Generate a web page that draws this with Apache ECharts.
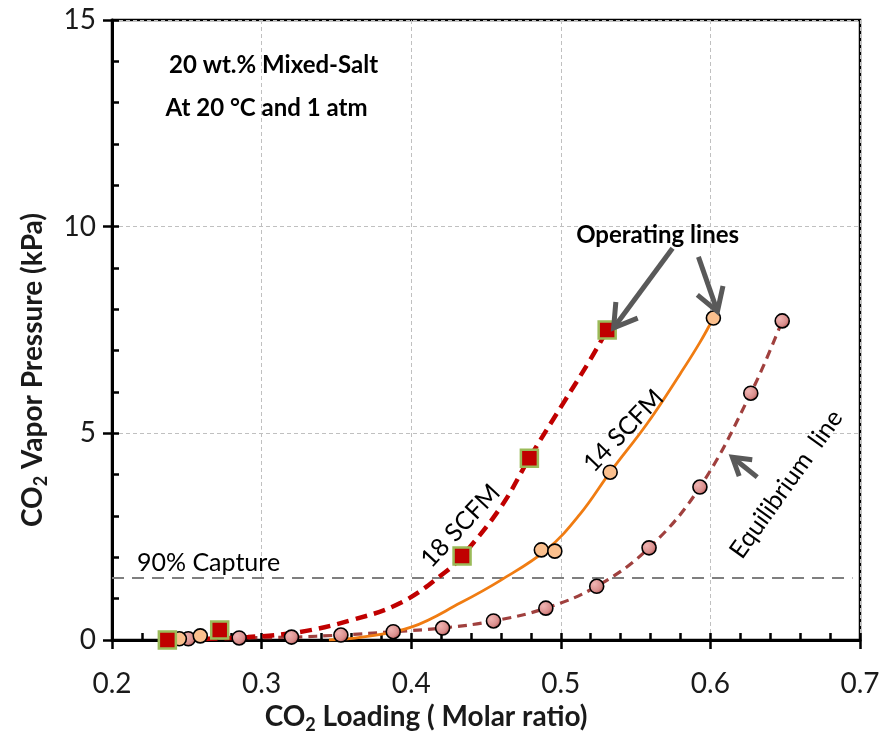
<!DOCTYPE html>
<html><head><meta charset="utf-8">
<script src="https://cdn.jsdelivr.net/npm/echarts@6/dist/echarts.min.js"></script>
<style>html,body{margin:0;padding:0;background:#fff}#c{width:895px;height:740px}</style>
</head><body><div id="c"></div>
<script>
// ---- data ----
const xTickValues = [0.2, 0.3, 0.4, 0.5, 0.6, 0.7];
const yTickValues = [0, 5, 10, 15];
// 18 SCFM measured points (red squares)
const sq18X = [0.237, 0.272, 0.434, 0.479, 0.531];
const sq18Y = [0.00, 0.24, 2.03, 4.40, 7.50];
// 14 SCFM measured points (orange circles)
const pt14X = [0.245, 0.259, 0.487, 0.496, 0.533, 0.602];
const pt14Y = [0.03, 0.10, 2.18, 2.15, 4.06, 7.79];
// equilibrium points
const eqX = [0.251, 0.285, 0.320, 0.353, 0.388, 0.421, 0.455, 0.490, 0.524, 0.559, 0.593, 0.627, 0.648];
const eqY = [0.03, 0.05, 0.07, 0.12, 0.20, 0.29, 0.46, 0.77, 1.30, 2.23, 3.70, 5.97, 7.72];
// operating-line trend curves
const fit18X = [0.237, 0.265, 0.291, 0.325, 0.360, 0.393, 0.422, 0.434, 0.460, 0.479, 0.502, 0.520, 0.531];
const fit18Y = [0.00, 0.03, 0.07, 0.19, 0.48, 0.90, 1.62, 2.03, 3.22, 4.40, 5.75, 6.80, 7.50];
const fit14X = [0.345, 0.367, 0.400, 0.433, 0.460, 0.491, 0.513, 0.533, 0.558, 0.580, 0.593, 0.602];
const fit14Y = [0.00, 0.07, 0.31, 0.90, 1.45, 2.20, 3.05, 4.06, 5.25, 6.45, 7.20, 7.79];
// 90% capture level
const captureX = [0.2, 0.695];
const captureY = [1.5, 1.5];

const zip = (a, b) => a.map((v, i) => [v, b[i]]);
const FONT = 'Lato, "Open Sans", sans-serif';
const xMin = xTickValues[0], xMax = xTickValues[xTickValues.length - 1];
const yMin = yTickValues[0], yMax = yTickValues[yTickValues.length - 1];

const titleRich = {s: {fontFamily: FONT, fontSize: 18, fontWeight: 'bold', color: '#1a1a1a', verticalAlign: 'bottom', padding: [16, 0, 0, 0]}};

const chart = echarts.init(document.getElementById('c'), null, {renderer: 'canvas'});
const option = {
  animation: false,
  grid: {left: 112, right: 35, top: 20, bottom: 100, show: true, borderColor: '#000', borderWidth: 2.5, backgroundColor: 'transparent'},
  xAxis: [{
    type: 'value', min: xMin, max: xMax, interval: 0.1,
    axisLine: {lineStyle: {color: '#000', width: 3}},
    axisTick: {show: true, inside: true, length: 7, lineStyle: {color: '#000', width: 2.5}},
    minorTick: {show: true, splitNumber: 5, length: 7, lineStyle: {color: '#000', width: 2.5}},
    splitLine: {show: true, lineStyle: {color: '#c0c0c0', width: 1, type: [4, 3]}},
    axisLabel: {fontFamily: FONT, fontSize: 28, color: '#1a1a1a', margin: 30, formatter: v => v.toFixed(1)},
    name: 'CO{s|2} Loading ( Molar ratio)', nameLocation: 'middle', nameGap: 58,
    nameTextStyle: {fontFamily: FONT, fontSize: 28, fontWeight: 'bold', color: '#1a1a1a', padding: [0, 120, 0, 0], rich: titleRich}
  }, {
    type: 'value', min: xMin, max: xMax, interval: 0.1, position: 'bottom',
    axisLine: {show: false}, axisLabel: {show: false}, splitLine: {show: false},
    axisTick: {show: true, inside: false, length: 9, lineStyle: {color: '#000', width: 2.5}}
  }],
  yAxis: [{
    type: 'value', min: yMin, max: yMax, interval: 5,
    axisLine: {show: true, lineStyle: {color: '#000', width: 3}},
    axisTick: {show: true, inside: true, length: 7, lineStyle: {color: '#000', width: 2.5}},
    minorTick: {show: true, splitNumber: 5, length: 7, lineStyle: {color: '#000', width: 2.5}},
    splitLine: {show: true, lineStyle: {color: '#c0c0c0', width: 1, type: [4, 3]}},
    axisLabel: {fontFamily: FONT, fontSize: 28, color: '#1a1a1a', margin: 16},
    name: 'CO{s|2} Vapor Pressure (kPa)', nameLocation: 'middle', nameGap: 62,
    nameTextStyle: {fontFamily: FONT, fontSize: 28, fontWeight: 'bold', color: '#1a1a1a', padding: [0, 80, 0, 0], rich: titleRich}
  }, {
    type: 'value', min: yMin, max: yMax, interval: 5, position: 'left', offset: 0,
    axisLine: {show: false}, axisLabel: {show: false}, splitLine: {show: false},
    axisTick: {show: true, inside: false, length: 9, lineStyle: {color: '#000', width: 2.5}}
  }],
  series: [
    {name: 'capture', type: 'line', data: zip(captureX, captureY), showSymbol: false, silent: true, z: 1,
      lineStyle: {color: '#7f7f7f', width: 2, type: [12, 8]}},
    {name: 'eqLine', type: 'line', data: zip(eqX, eqY), showSymbol: false, smooth: 0.4, z: 2,
      lineStyle: {color: '#a0403e', width: 3.2, type: [9, 6]}},
    {name: 'fit14', type: 'line', data: zip(fit14X, fit14Y), showSymbol: false, smooth: 0.4, z: 2,
      lineStyle: {color: '#f07c12', width: 2.8}},
    {name: 'fit18', type: 'line', data: zip(fit18X, fit18Y), showSymbol: false, smooth: 0.4, z: 2,
      lineStyle: {color: '#c00000', width: 4.5, type: [12, 7]}},
    {name: 'Equilibrium', type: 'scatter', data: zip(eqX, eqY), symbol: 'circle', symbolSize: 14, z: 3,
      itemStyle: {opacity: 1, borderColor: '#000', borderWidth: 1.6,
        color: {type: 'radial', x: 0.35, y: 0.35, r: 0.75, colorStops: [{offset: 0, color: '#f0b5b3'}, {offset: 0.6, color: '#da8f8d'}, {offset: 1, color: '#a8423f'}]}}},
    {name: '14 SCFM', type: 'scatter', data: zip(pt14X, pt14Y), symbol: 'circle', symbolSize: 14, z: 3,
      itemStyle: {opacity: 1, color: '#fbc08e', borderColor: '#000', borderWidth: 1.6}},
    {name: '18 SCFM', type: 'scatter', data: zip(sq18X, sq18Y), symbol: 'rect', symbolSize: 17, z: 4,
      itemStyle: {opacity: 1, color: '#c00000', borderColor: '#9bbb59', borderWidth: 2.5}}
  ]
};
chart.setOption(option);

// ---- annotations (placed in data coordinates) ----
const px = p => chart.convertToPixel({gridIndex: 0}, p);
function arrow(tail, tip, headLen) {
  const a = px(tail), b = px(tip);
  const ang = Math.atan2(a[1] - b[1], a[0] - b[0]);
  const s = 0.55;
  const h1 = [b[0] + headLen * Math.cos(ang + s), b[1] + headLen * Math.sin(ang + s)];
  const h2 = [b[0] + headLen * Math.cos(ang - s), b[1] + headLen * Math.sin(ang - s)];
  const style = {stroke: '#595959', lineWidth: 5, lineCap: 'butt', lineJoin: 'miter', fill: null};
  return [
    {type: 'polyline', shape: {points: [a, b]}, style: style, z: 100},
    {type: 'polyline', shape: {points: [h1, b, h2]}, style: style, z: 100}
  ];
}
function label(text, at, deg, size, bold, align) {
  const p = px(at);
  return {type: 'text', x: p[0], y: p[1], rotation: deg * Math.PI / 180, z: 101,
    style: {text: text, fontFamily: FONT, fontSize: size, fontWeight: bold ? 'bold' : 'normal', fill: '#000',
      align: align || 'center', verticalAlign: 'middle'}};
}
const graphic = [].concat(
  arrow([0.5747, 9.48], [0.5353, 7.55], 26),
  arrow([0.592, 9.27], [0.6047, 7.95], 26),
  arrow([0.6313, 3.94], [0.6147, 4.42], 20),
  [
    label('20 wt.% Mixed-Salt', [0.308, 13.91], 0, 24, true),
    label('At 20 °C and 1 atm', [0.3033, 12.87], 0, 24, true),
    label('Operating lines', [0.5647, 9.78], 0, 24, true),
    label('18 SCFM', [0.4330, 2.76], 47, 25, false),
    label('14 SCFM', [0.5420, 5.06], 46, 25, false),
    label('Equilibrium  line', [0.6507, 3.77], 54.5, 25, false),
    label('90% Capture', [0.2167, 1.86], 0, 25, false, 'left')
  ]
);
chart.setOption({graphic: graphic});
</script>
</body></html>
